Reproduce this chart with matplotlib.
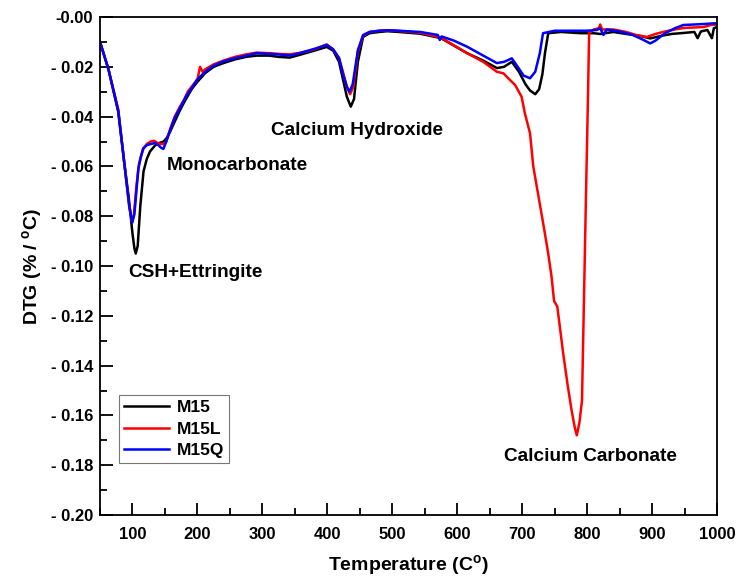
import matplotlib
matplotlib.use("Agg")
import matplotlib.pyplot as plt
from matplotlib.ticker import MultipleLocator

plt.rcParams['font.family'] = ['Liberation Sans', 'DejaVu Sans']
plt.rcParams['font.weight'] = 'bold'

# DTG curves (% / C) read against temperature (C)
t_m15 = [50, 63, 78, 88, 94, 100, 103, 105, 108, 112, 117, 122, 127, 135, 142, 148,
         153, 158, 165, 173, 180, 191, 200, 212, 225, 240, 258, 275, 291, 310, 325,
         342, 360, 380, 399, 409, 418, 424, 430, 436, 441, 447, 455, 465, 480, 492,
         510, 543, 575, 615, 640, 661, 672, 684, 695, 705, 712, 720, 726, 731, 735,
         740, 760, 790, 810, 820, 840, 860, 880, 897, 915, 930, 948, 965, 970, 975,
         985, 992, 995, 1000]
dtg_m15 = [-0.010, -0.021, -0.038, -0.060, -0.072, -0.087, -0.093, -0.095, -0.092,
           -0.076, -0.062, -0.057, -0.054, -0.0515, -0.0505, -0.050, -0.0485, -0.046,
           -0.042, -0.0375, -0.034, -0.029, -0.026, -0.0225, -0.020, -0.0185, -0.017,
           -0.016, -0.0155, -0.0155, -0.016, -0.0163, -0.015, -0.0135, -0.012, -0.0135,
           -0.018, -0.025, -0.032, -0.036, -0.033, -0.018, -0.008, -0.0065, -0.006,
           -0.0057, -0.006, -0.0067, -0.0085, -0.0145, -0.0175, -0.0205, -0.020, -0.018,
           -0.022, -0.027, -0.0295, -0.031, -0.029, -0.023, -0.0145, -0.0065, -0.006,
           -0.0065, -0.0065, -0.0068, -0.006, -0.0068, -0.0075, -0.0086, -0.0075,
           -0.0068, -0.0064, -0.006, -0.0085, -0.0058, -0.0052, -0.0085, -0.0045, -0.004]

t_m15l = [50, 63, 78, 88, 95, 99, 102, 106, 110, 116, 122, 128, 133, 138, 143, 148,
          152, 158, 165, 173, 180, 185, 191, 200, 204, 208, 212, 225, 240, 258, 275,
          291, 310, 325, 342, 360, 380, 399, 409, 418, 424, 430, 435, 440, 447, 455,
          465, 480, 492, 510, 543, 575, 615, 640, 661, 671, 680, 689, 699, 704, 712,
          717, 725, 733, 740, 745, 749, 754, 763, 770, 776, 781, 784, 788, 792, 795,
          798, 801, 803, 810, 818, 820, 823, 840, 860, 875, 892, 905, 920, 935, 948,
          965, 980, 990, 1000]
dtg_m15l = [-0.010, -0.021, -0.037, -0.060, -0.076, -0.082, -0.080, -0.068, -0.059,
            -0.053, -0.051, -0.050, -0.0497, -0.0505, -0.051, -0.051, -0.050, -0.045,
            -0.040, -0.036, -0.033, -0.030, -0.028, -0.025, -0.020, -0.022, -0.021,
            -0.019, -0.0175, -0.016, -0.015, -0.0143, -0.0145, -0.0148, -0.015, -0.0143,
            -0.013, -0.011, -0.013, -0.0165, -0.022, -0.028, -0.031, -0.028, -0.014,
            -0.0075, -0.006, -0.0055, -0.0053, -0.0056, -0.0063, -0.0083, -0.0145,
            -0.018, -0.022, -0.0226, -0.025, -0.0273, -0.032, -0.0386, -0.0467, -0.060,
            -0.072, -0.084, -0.095, -0.104, -0.114, -0.1163, -0.135, -0.148, -0.158,
            -0.165, -0.168, -0.163, -0.154, -0.114, -0.0735, -0.035, -0.0065, -0.005,
            -0.0045, -0.003, -0.005, -0.005, -0.006, -0.0072, -0.008, -0.0068, -0.0058,
            -0.005, -0.0044, -0.0042, -0.004, -0.0032, -0.003]

t_m15q = [50, 63, 78, 88, 95, 99.8, 103, 106, 109, 113, 117, 122, 128, 135, 140, 144,
          147.5, 152, 158, 165, 173, 182, 191, 200, 212, 225, 240, 258, 275, 291, 310,
          325, 342, 360, 380, 399, 409, 418, 424, 430, 434, 439, 447, 455, 465, 480,
          492, 510, 543, 570, 573, 576, 595, 615, 640, 661, 672, 684, 693, 702, 712,
          720, 727, 732, 750, 780, 800, 815, 820, 825, 830, 850, 870, 885, 897, 905,
          920, 935, 948, 965, 980, 997, 1000]
dtg_m15q = [-0.010, -0.021, -0.0375, -0.060, -0.076, -0.0825, -0.079, -0.070, -0.061,
            -0.056, -0.0527, -0.0515, -0.051, -0.0506, -0.0515, -0.0525, -0.053, -0.050,
            -0.0454, -0.0405, -0.0366, -0.032, -0.0286, -0.025, -0.022, -0.0195, -0.0178,
            -0.0165, -0.0155, -0.0145, -0.0148, -0.015, -0.0155, -0.0143, -0.0128,
            -0.0112, -0.013, -0.0165, -0.023, -0.028, -0.030, -0.027, -0.0133, -0.0072,
            -0.006, -0.0055, -0.0053, -0.0055, -0.006, -0.0072, -0.0092, -0.0078,
            -0.0095, -0.0119, -0.0155, -0.0185, -0.018, -0.0166, -0.020, -0.0235,
            -0.0246, -0.022, -0.0146, -0.0065, -0.0055, -0.0055, -0.0055, -0.0052,
            -0.0045, -0.0072, -0.005, -0.0058, -0.0072, -0.009, -0.0106, -0.0095,
            -0.0065, -0.0045, -0.0032, -0.003, -0.0028, -0.0025, -0.003]

ytick_vals = [0.00, -0.02, -0.04, -0.06, -0.08, -0.10, -0.12, -0.14, -0.16, -0.18, -0.20]
ytick_text = ['-0.00'] + ['- %.2f' % abs(v) for v in ytick_vals[1:]]
xtick_vals = [100, 200, 300, 400, 500, 600, 700, 800, 900, 1000]

fig = plt.figure(figsize=(7.37, 5.81), dpi=100)
ax = fig.add_axes([0.1357, 0.1136, 0.8373, 0.8571])

ax.plot(t_m15, dtg_m15, color='black', lw=1.8, label='M15')
ax.plot(t_m15l, dtg_m15l, color='#ff0000', lw=1.8, label='M15L')
ax.plot(t_m15q, dtg_m15q, color='#0000ff', lw=1.8, label='M15Q')

ax.set_xlim(50, 1000)
ax.set_ylim(-0.20, 0.0)
ax.set_xticks(xtick_vals)
ax.set_yticks(ytick_vals)
ax.set_yticklabels(ytick_text)
ax.xaxis.set_minor_locator(MultipleLocator(50))
ax.yaxis.set_minor_locator(MultipleLocator(0.01))
ax.tick_params(which='both', direction='in', width=1.3, labelsize=12)
ax.tick_params(which='major', length=9)
ax.tick_params(which='minor', length=5)
ax.tick_params(axis='x', pad=9)
ax.tick_params(axis='y', pad=5)
for s in ax.spines.values():
    s.set_linewidth(1.3)

ax.set_xlabel('Temperature (C$^\\mathregular{o}$)', fontsize=14, fontweight='bold', labelpad=8)
ax.set_ylabel('DTG (% / $^\\mathregular{o}$C)', fontsize=14, fontweight='bold', labelpad=4)

txt = dict(fontsize=13.7, fontweight='bold', va='center', ha='left')
ax.text(93, -0.1028, 'CSH+Ettringite', **txt)
ax.text(153, -0.0598, 'Monocarbonate', **txt)
ax.text(313, -0.0454, 'Calcium Hydroxide', **txt)
ax.text(672, -0.1767, 'Calcium Carbonate', **txt)

leg = ax.legend(loc='upper left', bbox_to_anchor=(0.031, 0.241), fontsize=12.5,
                fancybox=False, edgecolor='#555555', handlelength=2.6,
                borderpad=0.3, labelspacing=0.35, handletextpad=0.4,
                borderaxespad=0)
leg.get_frame().set_linewidth(0.8)

fig.savefig('out.png', dpi=100)
